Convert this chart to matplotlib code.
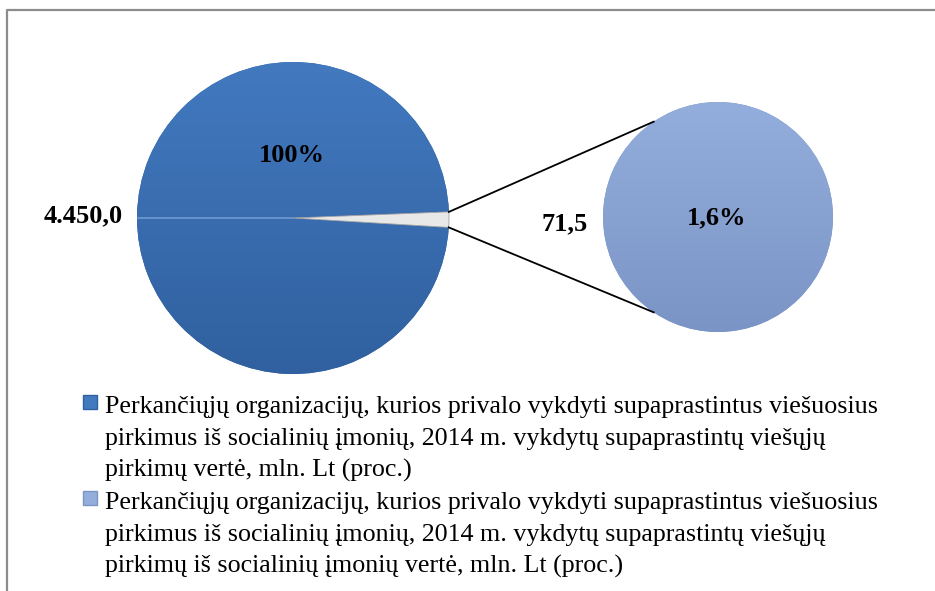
import textwrap
import numpy as np
import matplotlib.pyplot as plt
from matplotlib.colors import LinearSegmentedColormap

# data
big_values = [4450.0, 71.5]          # main pie: rest, social enterprises
small_values = [71.5]                # pie of pie
value_labels = ['4.450,0', '71,5']
pct_labels = ['100%', '1,6%']
series_labels = [
    'Perkančiųjų organizacijų, kurios privalo vykdyti supaprastintus viešuosius '
    'pirkimus iš socialinių įmonių, 2014 m. vykdytų supaprastintų viešųjų '
    'pirkimų vertė, mln. Lt (proc.)',
    'Perkančiųjų organizacijų, kurios privalo vykdyti supaprastintus viešuosius '
    'pirkimus iš socialinių įmonių, 2014 m. vykdytų supaprastintų viešųjų '
    'pirkimų iš socialinių įmonių vertė, mln. Lt (proc.)',
]

# colours (top, bottom of gradient)
big_cols = ('#4279BF', '#30609F')
small_cols = ('#93AEDC', '#7B94C6')
other_col = '#E8E8E8'

W, H = 935, 591
fig = plt.figure(figsize=(W / 100, H / 100), dpi=100)
ax = fig.add_axes([0, 0, 1, 1])
serif = 'Liberation Serif'

# layout in pixel coords (y down)
big_c, big_r = (293, 218), 156
small_c, small_r = (718, 217), 115


def shade(wedge, center, r, cols):
    cmap = LinearSegmentedColormap.from_list('g', cols)
    grad = np.linspace(0, 1, 256).reshape(-1, 1)
    im = ax.imshow(grad, cmap=cmap, aspect='auto', origin='upper',
                   extent=(center[0] - r, center[0] + r, center[1] + r, center[1] - r),
                   zorder=wedge.get_zorder() + 0.1)
    im.set_clip_path(wedge)


# main pie
total = sum(big_values)
other_deg = big_values[1] / total * 360
start = other_deg / 2 + 0.6
wedges, _ = ax.pie(big_values, center=big_c, radius=big_r, startangle=start,
                   colors=[big_cols[1], other_col],
                   wedgeprops=dict(linewidth=0))
shade(wedges[0], big_c, big_r, big_cols)
wedges[1].set_edgecolor('#A0A0A0')
wedges[1].set_linewidth(0.6)
wedges[1].set_zorder(3)

# faint seam on the left half of the big pie
ax.plot([big_c[0] - big_r + 1, big_c[0]], [big_c[1], big_c[1]],
        color='#6F9AD2', lw=1.2, zorder=2)

# small pie
swedges, _ = ax.pie(small_values, center=small_c, radius=small_r,
                    colors=[small_cols[1]], wedgeprops=dict(linewidth=0))
shade(swedges[0], small_c, small_r, small_cols)

# connector lines (data angles, y axis is inverted)
a1 = np.deg2rad(start)
a2 = np.deg2rad(start - other_deg)
for a, b in [(a2, np.deg2rad(-124)), (a1, np.deg2rad(124))]:
    x0 = big_c[0] + big_r * np.cos(a)
    y0 = big_c[1] + big_r * np.sin(a)
    x1 = small_c[0] + small_r * np.cos(b)
    y1 = small_c[1] + small_r * np.sin(b)
    ax.plot([x0, x1], [y0, y1], color='black', lw=1.3, zorder=4)

# data labels
lab = dict(fontfamily=serif, fontweight='bold', fontsize=19,
           ha='center', va='baseline', zorder=5)
ax.text(292, 162, pct_labels[0], **lab)
ax.text(83, 222, value_labels[0], **lab)
ax.text(565, 230, value_labels[1], **lab)
ax.text(717, 224, pct_labels[1], **lab)

# legend
handles = [big_cols, small_cols]
y = 413
for cols, label in zip(handles, series_labels):
    sq = plt.Rectangle((83, y - 18), 14, 14, facecolor=cols[0],
                       edgecolor=cols[1], lw=1)
    ax.add_patch(sq)
    for line in textwrap.wrap(label, 74):
        ax.text(105, y, line, fontfamily=serif, fontsize=18.7,
                ha='left', va='baseline')
        y += 32

# chart frame (top and left edges visible)
ax.plot([7, 7, W], [H, 10, 10], color='#8C8C8C', lw=1.6, clip_on=False)

ax.set_xlim(0, W)
ax.set_ylim(H, 0)
ax.set_aspect('auto')
ax.axis('off')

fig.savefig('out.png', dpi=100)
